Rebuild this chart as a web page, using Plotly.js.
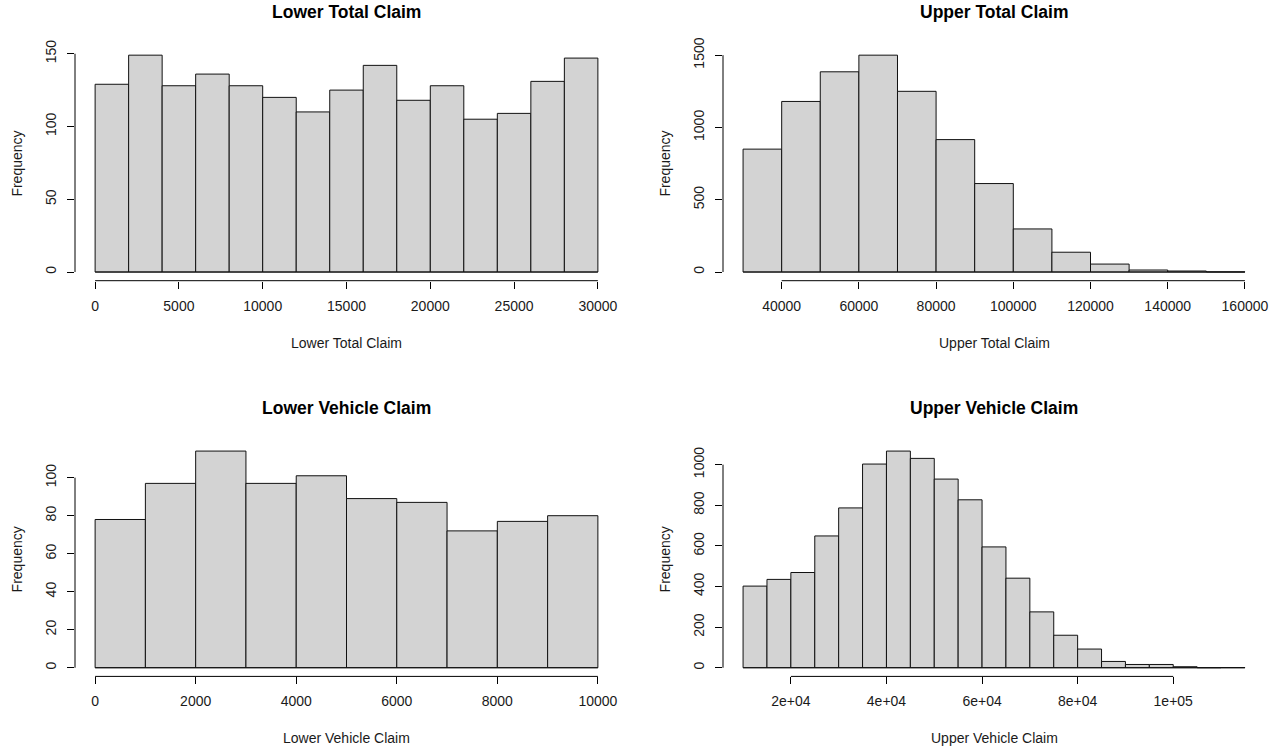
<!DOCTYPE html>
<html>
<head>
<meta charset="utf-8">
<script src="https://cdn.plot.ly/plotly-3.0.1.min.js"></script>
<style>html,body{margin:0;padding:0;background:#fff;}#chart{width:1281px;height:750px;}</style>
</head>
<body>
<div id="chart"></div>
<script>
// ---- Data ----
const lowerTotalBreaks = [0,2000,4000,6000,8000,10000,12000,14000,16000,18000,20000,22000,24000,26000,28000,30000];
const lowerTotalCounts = [129,149,128,136,128,120,110,125,142,118,128,105,109,131,147];
const lowerTotalTicks = [0,5000,10000,15000,20000,25000,30000];
const lowerTotalTickText = ["0","5000","10000","15000","20000","25000","30000"];
const lowerTotalYTicks = [0,50,100,150];

const upperTotalBreaks = [30000,40000,50000,60000,70000,80000,90000,100000,110000,120000,130000,140000,150000,160000];
const upperTotalCounts = [850,1180,1385,1500,1250,916,612,298,137,55,14,7,1];
const upperTotalTicks = [40000,60000,80000,100000,120000,140000,160000];
const upperTotalTickText = ["40000","60000","80000","100000","120000","140000","160000"];
const upperTotalYTicks = [0,500,1000,1500];

const lowerVehicleBreaks = [0,1000,2000,3000,4000,5000,6000,7000,8000,9000,10000];
const lowerVehicleCounts = [78,97,114,97,101,89,87,72,77,80];
const lowerVehicleTicks = [0,2000,4000,6000,8000,10000];
const lowerVehicleTickText = ["0","2000","4000","6000","8000","10000"];
const lowerVehicleYTicks = [0,20,40,60,80,100];

const upperVehicleBreaks = [10000,15000,20000,25000,30000,35000,40000,45000,50000,55000,60000,65000,70000,75000,80000,85000,90000,95000,100000,105000,110000,115000];
const upperVehicleCounts = [402,435,469,649,787,1003,1067,1031,929,827,595,441,275,160,92,31,16,16,5,0,1];
const upperVehicleTicks = [20000,40000,60000,80000,100000];
const upperVehicleTickText = ["2e+04","4e+04","6e+04","8e+04","1e+05"];
const upperVehicleYTicks = [0,200,400,600,800,1000];

const titles = ["Lower Total Claim","Upper Total Claim","Lower Vehicle Claim","Upper Vehicle Claim"];
const yTitle = "Frequency";

// ---- Layout geometry (pixels) ----
const W = 1281, H = 750;
const regions = [
  {x0:75,  x1:618,  y0:46.5,  y1:280.7},
  {x0:723, x1:1265, y0:46.5,  y1:280.7},
  {x0:75,  x1:618,  y0:442.4, y1:676.4},
  {x0:723, x1:1265, y0:442.4, y1:676.4}
];
const panels = [
  {breaks:lowerTotalBreaks, counts:lowerTotalCounts, ticks:lowerTotalTicks, ticktext:lowerTotalTickText, yticks:lowerTotalYTicks},
  {breaks:upperTotalBreaks, counts:upperTotalCounts, ticks:upperTotalTicks, ticktext:upperTotalTickText, yticks:upperTotalYTicks},
  {breaks:lowerVehicleBreaks, counts:lowerVehicleCounts, ticks:lowerVehicleTicks, ticktext:lowerVehicleTickText, yticks:lowerVehicleYTicks},
  {breaks:upperVehicleBreaks, counts:upperVehicleCounts, ticks:upperVehicleTicks, ticktext:upperVehicleTickText, yticks:upperVehicleYTicks}
];

const FONT = "Liberation Sans, Arial, sans-serif";
const TXT = "#1a1a1a";
const data = [];
const layout = {
  width: W, height: H,
  margin: {l:0, r:0, t:0, b:0},
  paper_bgcolor: "#fff", plot_bgcolor: "#fff",
  showlegend: false,
  bargap: 0,
  font: {family: FONT, size: 14, color: TXT},
  shapes: [], annotations: []
};

panels.forEach((p, i) => {
  const n = i + 1;
  const xa = n === 1 ? "x" : "x" + n;
  const ya = n === 1 ? "y" : "y" + n;
  const r = regions[i];
  const centers = [], widths = [];
  for (let k = 0; k < p.counts.length; k++) {
    centers.push((p.breaks[k] + p.breaks[k+1]) / 2);
    widths.push(p.breaks[k+1] - p.breaks[k]);
  }
  data.push({
    type: "bar", x: centers, y: p.counts, width: widths,
    xaxis: xa, yaxis: ya,
    marker: {color: "#D3D3D3", line: {color: "#111", width: 1}},
    hoverinfo: "x+y"
  });
  const bmin = p.breaks[0], bmax = p.breaks[p.breaks.length - 1];
  const xpad = (bmax - bmin) * 0.04;
  const ymax = Math.max.apply(null, p.counts);
  const ypad = ymax * 0.04;
  const axKey = n === 1 ? "" : String(n);
  layout["xaxis" + axKey] = {
    domain: [r.x0 / W, r.x1 / W],
    range: [bmin - xpad, bmax + xpad],
    anchor: ya,
    showgrid: false, zeroline: false, showline: false,
    tickmode: "array", tickvals: p.ticks, ticktext: p.ticktext,
    ticks: "outside", ticklen: 7, tickwidth: 1, tickcolor: "#000",
    ticklabelstandoff: 5,
    tickfont: {family: FONT, size: 14, color: TXT},
    fixedrange: true
  };
  layout["yaxis" + axKey] = {
    domain: [1 - r.y1 / H, 1 - r.y0 / H],
    range: [-ypad, ymax + ypad],
    anchor: xa,
    showgrid: false, zeroline: false, showline: false,
    tickmode: "array", tickvals: p.yticks, ticktext: p.yticks.map(String),
    ticks: "outside", ticklen: 7, tickwidth: 1, tickcolor: "#000",
    tickangle: -90,
    ticklabelstandoff: 5,
    tickfont: {family: FONT, size: 14, color: TXT},
    fixedrange: true
  };
  // R-style axis lines spanning only first..last tick
  layout.shapes.push({type: "line", xref: xa, yref: ya + " domain",
    x0: p.ticks[0], x1: p.ticks[p.ticks.length - 1], y0: 0, y1: 0,
    line: {color: "#000", width: 1}});
  layout.shapes.push({type: "line", xref: xa + " domain", yref: ya,
    x0: 0, x1: 0, y0: p.yticks[0], y1: p.yticks[p.yticks.length - 1],
    line: {color: "#000", width: 1}});
  // histogram baseline
  layout.shapes.push({type: "line", xref: xa, yref: ya,
    x0: bmin, x1: bmax, y0: 0, y1: 0,
    line: {color: "#111", width: 1}});
  // titles
  const cx = (r.x0 + r.x1) / 2 / W;
  layout.annotations.push({xref: "paper", yref: "paper", x: cx, y: 1 - (r.y0 - 34.5) / H,
    text: "<b>" + titles[i] + "</b>", showarrow: false, xanchor: "center", yanchor: "middle",
    font: {family: FONT, size: 17.5, color: "#000"}});
  layout.annotations.push({xref: "paper", yref: "paper", x: cx, y: 1 - (r.y1 + 62) / H,
    text: titles[i], showarrow: false, xanchor: "center", yanchor: "middle",
    font: {family: FONT, size: 14, color: TXT}});
  layout.annotations.push({xref: "paper", yref: "paper", x: (r.x0 - 58) / W, y: 1 - (r.y0 + r.y1) / 2 / H,
    text: yTitle, showarrow: false, textangle: -90, xanchor: "center", yanchor: "middle",
    font: {family: FONT, size: 14, color: TXT}});
});

Plotly.newPlot("chart", data, layout, {displayModeBar: false, staticPlot: true});
</script>
</body>
</html>
